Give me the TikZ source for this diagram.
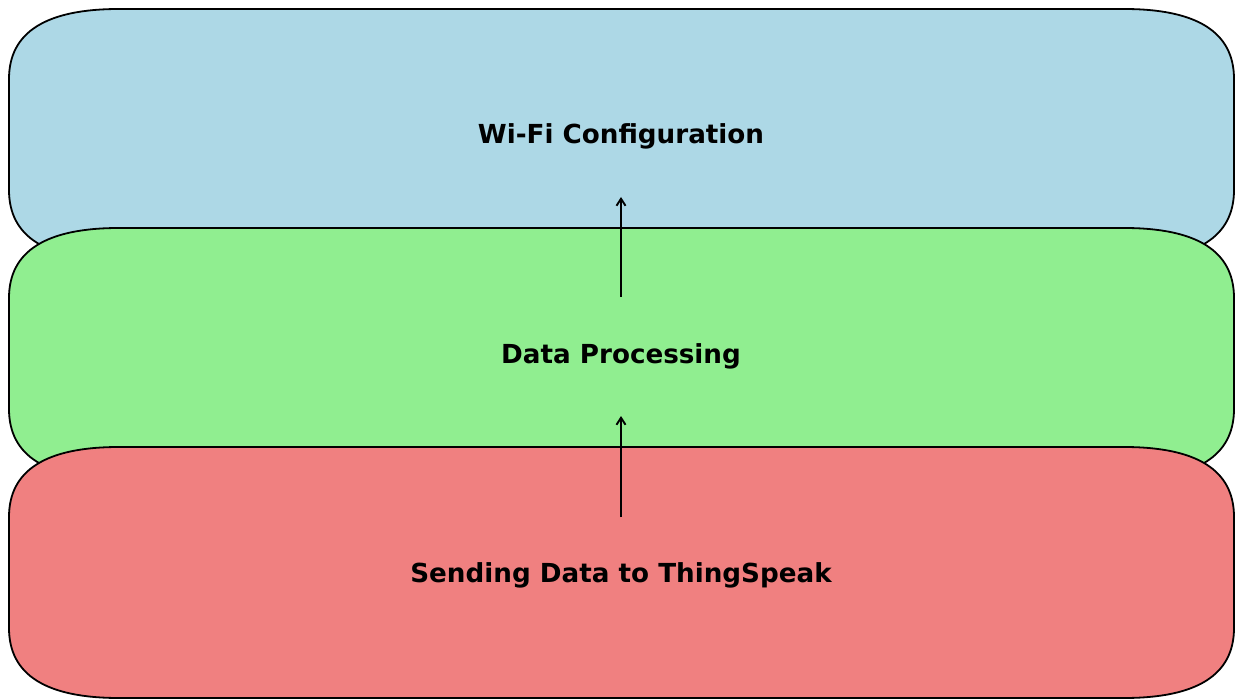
\documentclass[tikz,border=0pt]{standalone}
\usepackage{fontspec}
\setmainfont{DejaVu Sans}
\usetikzlibrary{arrows.meta}
\definecolor{boxblue}{HTML}{ADD8E6}
\definecolor{boxgreen}{HTML}{90EE90}
\definecolor{boxred}{HTML}{F08080}
\newcommand\layerbox[5]{% color, x0, y0, x1, y1
  \filldraw[fill=#1, draw=black, line width=1.8pt]
    (#2,#3+70) .. controls (#2,#3+23.33) and (#2+36.67,#3) .. (#2+110,#3)
    -- (#4-110,#3) .. controls (#4-36.67,#3) and (#4,#3+23.33) .. (#4,#3+70)
    -- (#4,#5-70) .. controls (#4,#5-23.33) and (#4-36.67,#5) .. (#4-110,#5)
    -- (#2+110,#5) .. controls (#2+36.67,#5) and (#2,#5-23.33) .. (#2,#5-70)
    -- cycle;}
\tikzset{
  layerlabel/.style={font=\fontsize{26.2}{31}\selectfont\bfseries, text=black, inner sep=0pt, anchor=base},
  flowarrow/.style={-{Straight Barb[length=7pt,width=9pt]}, line width=1.9pt, draw=black},
}
\begin{document}
\begin{tikzpicture}[x=1pt,y=-1pt]
\useasboundingbox (0,0) rectangle (1236,700);
\layerbox{boxblue}{9}{9}{1234}{260}
\layerbox{boxgreen}{9}{228}{1234}{479}
\layerbox{boxred}{9}{447}{1234}{698}
\node[layerlabel] (wifi) at (621,144) {Wi-Fi Configuration};
\node[layerlabel] (proc) at (621,363) {Data Processing};
\node[layerlabel] (send) at (621,582) {Sending Data to ThingSpeak};
\coordinate (a1s) at (621,297);
\coordinate (a1e) at (621,197);
\coordinate (a2s) at (621,517);
\coordinate (a2e) at (621,416);
\draw[flowarrow] (a1s) -- (a1e);
\draw[flowarrow] (a2s) -- (a2e);
\end{tikzpicture}
\end{document}
